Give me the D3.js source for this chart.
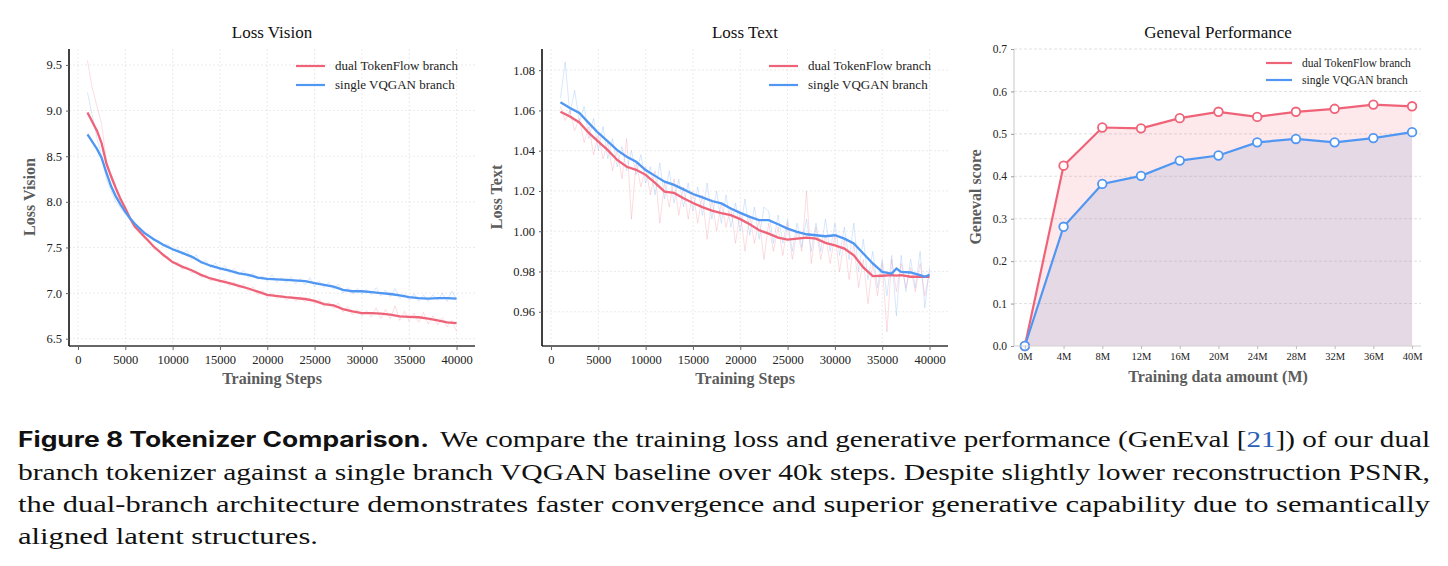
<!DOCTYPE html>
<html>
<head>
<meta charset="utf-8">
<title>Tokenizer Comparison</title>
<script src="https://d3js.org/d3.v7.min.js"></script>
<style>
  body { margin: 0; background: #fff; }
</style>
</head>
<body>
<svg id="fig" width="1448" height="566" font-family="'Liberation Serif', 'Times New Roman', serif"></svg>
<script>
// ---- data ----
const steps = [1000,2000,2500,3000,3500,4000,4500,5000,5500,6000,7000,8000,9000,10000,11000,12000,13000,14000,15000,16000,17000,18000,19000,20000,22000,24000,25000,26000,27000,28000,29000,30000,31000,32000,33000,34000,35000,36000,37000,38000,39000,40000];
const visionDual   = [8.98,8.78,8.64,8.42,8.28,8.15,8.03,7.93,7.82,7.73,7.62,7.51,7.42,7.34,7.29,7.25,7.20,7.16,7.135,7.11,7.08,7.05,7.015,6.98,6.955,6.935,6.915,6.88,6.865,6.825,6.80,6.78,6.78,6.775,6.765,6.745,6.74,6.735,6.72,6.70,6.68,6.67];
const visionSingle = [8.74,8.58,8.48,8.32,8.17,8.06,7.97,7.89,7.82,7.76,7.66,7.59,7.53,7.48,7.44,7.40,7.34,7.30,7.27,7.245,7.215,7.20,7.17,7.155,7.145,7.13,7.11,7.09,7.07,7.035,7.02,7.02,7.01,7.0,6.99,6.975,6.955,6.945,6.94,6.945,6.945,6.94];

const textSteps = [1000,2000,3000,4000,5000,6000,7000,8000,9000,10000,11000,12000,13000,14000,15000,16000,17000,18000,19000,20000,21000,22000,23000,24000,25000,26000,27000,28000,29000,30000,31000,32000,33000,34000,35000,36000,36500,37000,38000,39000,39500,40000];
const textDual   = [1.0593,1.057,1.054,1.0488,1.0445,1.0403,1.0354,1.032,1.0305,1.028,1.024,1.0197,1.019,1.0164,1.014,1.012,1.0102,1.009,1.008,1.006,1.0035,1.0005,0.9988,0.9968,0.9958,0.9963,0.9968,0.9963,0.9942,0.993,0.9914,0.988,0.982,0.9777,0.9779,0.9782,0.9780,0.9782,0.9774,0.9774,0.9774,0.9774];
const textSingle = [1.064,1.0612,1.0587,1.0537,1.0488,1.0446,1.0403,1.037,1.0345,1.0304,1.0275,1.0246,1.023,1.0208,1.0185,1.0168,1.015,1.0138,1.0113,1.0091,1.0071,1.0055,1.0055,1.0035,1.0013,0.9997,0.9985,0.998,0.9975,0.998,0.9963,0.9939,0.9889,0.984,0.9798,0.979,0.9815,0.9798,0.9795,0.9782,0.9774,0.9784];

// raw (unsmoothed) logs, one value every 500 steps from 1000 to 40000
const rawSteps = d3.range(1000, 40001, 500);
const visionDualRaw = [9.55,9.25,9.05,8.85,8.45,8.25,8.12,8.00,7.90,7.80,7.72,7.66,7.60,7.58,7.48,7.47,7.40,7.40,7.32,7.34,7.26,7.29,7.22,7.24,7.17,7.20,7.13,7.16,7.12,7.15,7.08,7.12,7.05,7.10,7.02,7.07,6.98,7.03,6.95,7.00,6.94,6.98,6.92,6.97,6.91,6.96,6.90,6.95,6.88,6.93,6.85,6.90,6.83,6.89,6.79,6.85,6.76,6.82,6.75,6.81,6.74,6.84,6.72,6.82,6.72,6.86,6.70,6.80,6.69,6.78,6.68,6.79,6.66,6.75,6.65,6.73,6.63,6.70,6.58];
const visionSingleRaw = [9.20,8.95,8.70,8.50,8.25,8.12,8.00,7.93,7.86,7.80,7.76,7.72,7.67,7.64,7.57,7.58,7.51,7.54,7.46,7.50,7.42,7.47,7.37,7.42,7.32,7.36,7.28,7.33,7.25,7.30,7.22,7.27,7.20,7.25,7.17,7.22,7.15,7.19,7.13,7.20,7.12,7.17,7.11,7.18,7.10,7.16,7.09,7.17,7.07,7.13,7.06,7.12,7.04,7.10,7.00,7.06,6.99,7.05,6.99,7.04,6.98,7.06,6.97,7.03,6.96,7.05,6.94,6.99,6.92,6.99,6.91,6.98,6.91,6.98,6.92,7.00,6.91,7.02,6.93];
const textDualRaw = [1.062,1.055,1.060,1.050,1.056,1.044,1.052,1.038,1.048,1.036,1.044,1.030,1.040,1.026,1.046,1.006,1.034,1.022,1.032,1.018,1.030,1.004,1.024,1.012,1.026,1.008,1.022,1.006,1.020,1.004,1.018,0.996,1.016,1.000,1.014,1.002,1.012,0.994,1.010,0.990,1.008,0.994,1.006,0.986,1.004,0.990,1.002,0.988,1.004,0.986,1.000,0.990,1.020,0.984,1.002,0.986,0.998,0.984,0.998,0.980,0.996,0.976,0.994,0.972,0.986,0.964,0.984,0.968,0.984,0.950,0.986,0.970,0.984,0.972,0.982,0.970,0.984,0.968,0.980];
const textSingleRaw = [1.066,1.084,1.058,1.070,1.054,1.062,1.046,1.056,1.040,1.052,1.036,1.046,1.032,1.042,1.030,1.040,1.028,1.038,1.024,1.032,1.018,1.034,1.016,1.030,1.014,1.026,1.012,1.024,1.010,1.022,1.008,1.024,1.006,1.020,1.004,1.018,1.002,1.014,1.000,1.016,0.998,1.012,0.996,1.012,1.010,0.994,1.008,0.994,1.006,0.990,1.004,0.992,1.006,0.990,1.004,0.990,1.006,0.990,1.004,0.988,1.002,0.986,1.004,0.980,0.996,0.976,0.990,0.972,0.986,0.968,0.988,0.958,0.988,0.970,0.986,0.972,0.990,0.962,0.982];

const dataAmount = ["0M","4M","8M","12M","16M","20M","24M","28M","32M","36M","40M"];
const genevalDual   = [0.0,0.425,0.515,0.513,0.537,0.552,0.540,0.552,0.559,0.569,0.565];
const genevalSingle = [0.0,0.281,0.382,0.401,0.437,0.449,0.480,0.488,0.480,0.490,0.504];

const stepTicks = [0,5000,10000,15000,20000,25000,30000,35000,40000];
const visionTicks = [6.5,7.0,7.5,8.0,8.5,9.0,9.5];
const textTicks = [0.96,0.98,1.00,1.02,1.04,1.06,1.08];
const scoreTicks = [0,0.1,0.2,0.3,0.4,0.5,0.6,0.7];
const seriesNames = ["dual TokenFlow branch", "single VQGAN branch"];

// ---- style ----
const RED = "#ef6379";
const BLUE = "#4f97f2";
const TOP = 49, BOTTOM = 346;
const SERIF = "'Liberation Serif', 'Times New Roman', serif";

const svg = d3.select("#fig");
svg.append("rect").attr("width", 1448).attr("height", 566).attr("fill", "#fff");

function legend(g, x, y, gap, fs, len) {
  [RED, BLUE].forEach((c, i) => {
    g.append("line").attr("x1", x).attr("x2", x + len)
      .attr("y1", y + i * gap).attr("y2", y + i * gap)
      .attr("stroke", c).attr("stroke-width", 2.2);
    g.append("text").attr("x", x + len + 10).attr("y", y + i * gap + fs * 0.33)
      .attr("font-size", fs).attr("fill", "#222").text(seriesNames[i]);
  });
}

function lossPanel(cfg) {
  const g = svg.append("g");
  const x = d3.scaleLinear().domain([-950, 41950]).range([cfg.left, cfg.right]);
  const y = d3.scaleLinear().domain(cfg.ydom).range([BOTTOM, TOP]);

  // grid
  g.selectAll(".gx").data(stepTicks).join("line")
    .attr("x1", d => x(d)).attr("x2", d => x(d)).attr("y1", TOP).attr("y2", BOTTOM)
    .attr("stroke", "#e6e6e6").attr("stroke-width", 0.8).attr("stroke-dasharray", "2,2");
  g.selectAll(".gy").data(cfg.ticks).join("line")
    .attr("x1", cfg.left).attr("x2", cfg.right).attr("y1", d => y(d)).attr("y2", d => y(d))
    .attr("stroke", "#e6e6e6").attr("stroke-width", 0.8).attr("stroke-dasharray", "2,2");

  // raw curves
  const raw = d3.line().x((d, i) => x(rawSteps[i])).y(d => y(d));
  g.append("path").attr("d", raw(cfg.rawDual)).attr("fill", "none")
    .attr("stroke", RED).attr("stroke-opacity", 0.22).attr("stroke-width", 1);
  g.append("path").attr("d", raw(cfg.rawSingle)).attr("fill", "none")
    .attr("stroke", BLUE).attr("stroke-opacity", 0.22).attr("stroke-width", 1);

  // smoothed
  const sm = d3.line().x((d, i) => x(cfg.steps[i])).y(d => y(d));
  g.append("path").attr("d", sm(cfg.dual)).attr("fill", "none")
    .attr("stroke", RED).attr("stroke-width", 2.3);
  g.append("path").attr("d", sm(cfg.single)).attr("fill", "none")
    .attr("stroke", BLUE).attr("stroke-width", 2.3);

  // axes
  const ax = g.append("g").attr("transform", `translate(0,${BOTTOM})`)
    .call(d3.axisBottom(x).tickValues(stepTicks).tickSize(4).tickPadding(5).tickFormat(d3.format("d")));
  ax.select(".domain").attr("stroke", "#666").attr("stroke-width", 2).attr("d", `M${cfg.left},0H${cfg.right}`);
  ax.selectAll(".tick line").attr("stroke", "#666");
  ax.selectAll("text").attr("font-size", 12.5).attr("fill", "#222").attr("font-family", SERIF);

  const ay = g.append("g").attr("transform", `translate(${cfg.left},0)`)
    .call(d3.axisLeft(y).tickValues(cfg.ticks).tickSize(3).tickPadding(4).tickFormat(d3.format(cfg.fmt)));
  ay.select(".domain").attr("stroke", "#111").attr("stroke-width", 1.6).attr("d", `M0,${TOP}V${BOTTOM}`);
  ay.selectAll(".tick line").attr("stroke", "#666");
  ay.selectAll("text").attr("font-size", 12.5).attr("fill", "#222").attr("font-family", SERIF);

  // labels
  g.append("text").attr("x", (cfg.left + cfg.right) / 2).attr("y", 38).attr("text-anchor", "middle")
    .attr("font-size", 17).attr("fill", "#111").text(cfg.title);
  g.append("text").attr("x", (cfg.left + cfg.right) / 2).attr("y", 384).attr("text-anchor", "middle")
    .attr("font-size", 16).attr("font-weight", "bold").attr("fill", "#5c5c5c").text("Training Steps");
  g.append("text").attr("transform", `translate(${cfg.ylabX},197) rotate(-90)`).attr("text-anchor", "middle")
    .attr("font-size", 16).attr("font-weight", "bold").attr("fill", "#5c5c5c").text(cfg.title);

  legend(g, cfg.legX, 66, 19, 13, 29);
}

lossPanel({ left: 69, right: 475, ydom: [6.42, 9.675], ticks: visionTicks, fmt: ".1f",
  steps: steps, dual: visionDual, single: visionSingle,
  rawDual: visionDualRaw, rawSingle: visionSingleRaw,
  title: "Loss Vision", ylabX: 35, legX: 296 });

lossPanel({ left: 542, right: 948, ydom: [0.943, 1.0905], ticks: textTicks, fmt: ".2f",
  steps: textSteps, dual: textDual, single: textSingle,
  rawDual: textDualRaw, rawSingle: textSingleRaw,
  title: "Loss Text", ylabX: 502, legX: 769 });

// ---- Geneval panel ----
(function () {
  const g = svg.append("g");
  const L = 1014, R = 1421;
  const x = d3.scaleLinear().domain([-0.28, 10.23]).range([L, R]);
  const y = d3.scaleLinear().domain([0, 0.7]).range([BOTTOM, TOP]);

  g.selectAll(".gy").data(scoreTicks.slice(1)).join("line")
    .attr("x1", L).attr("x2", R).attr("y1", d => y(d)).attr("y2", d => y(d))
    .attr("stroke", "#d8d8d8").attr("stroke-width", 0.8).attr("stroke-dasharray", "3,2");

  const area = d3.area().x((d, i) => x(i)).y0(y(0)).y1(d => y(d));
  g.append("path").attr("d", area(genevalDual)).attr("fill", RED).attr("fill-opacity", 0.15);
  g.append("path").attr("d", area(genevalSingle)).attr("fill", "#6f8fd0").attr("fill-opacity", 0.16);

  const line = d3.line().x((d, i) => x(i)).y(d => y(d));
  [[genevalDual, RED], [genevalSingle, BLUE]].forEach(([vals, c]) => {
    g.append("path").attr("d", line(vals)).attr("fill", "none").attr("stroke", c).attr("stroke-width", 2.2);
    g.selectAll(null).data(vals).join("circle")
      .attr("cx", (d, i) => x(i)).attr("cy", d => y(d)).attr("r", 4.3)
      .attr("fill", "#fff").attr("stroke", c).attr("stroke-width", 1.8);
  });

  const ax = g.append("g").attr("transform", `translate(0,${BOTTOM})`)
    .call(d3.axisBottom(x).tickValues(d3.range(dataAmount.length)).tickSize(3).tickPadding(4).tickFormat(i => dataAmount[i]));
  ax.select(".domain").attr("stroke", "#d0d0d0").attr("stroke-width", 1.2).attr("d", `M${L},0H${R}`);
  ax.selectAll(".tick line").attr("stroke", "#bbb");
  ax.selectAll("text").attr("font-size", 10.5).attr("fill", "#222").attr("font-family", SERIF);

  const ay = g.append("g").attr("transform", `translate(${L},0)`)
    .call(d3.axisLeft(y).tickValues(scoreTicks).tickSize(3).tickPadding(4).tickFormat(d3.format(".1f")));
  ay.select(".domain").attr("stroke", "#d0d0d0").attr("stroke-width", 1.2).attr("d", `M0,${TOP}V${BOTTOM}`);
  ay.selectAll(".tick line").attr("stroke", "#999");
  ay.selectAll("text").attr("font-size", 11.5).attr("fill", "#222").attr("font-family", SERIF);

  g.append("text").attr("x", 1218).attr("y", 38).attr("text-anchor", "middle")
    .attr("font-size", 17).attr("fill", "#111").text("Geneval Performance");
  g.append("text").attr("x", 1218).attr("y", 382).attr("text-anchor", "middle")
    .attr("font-size", 16).attr("font-weight", "bold").attr("fill", "#5c5c5c").text("Training data amount (M)");
  g.append("text").attr("transform", "translate(981,197) rotate(-90)").attr("text-anchor", "middle")
    .attr("font-size", 16).attr("font-weight", "bold").attr("fill", "#5c5c5c").text("Geneval score");

  legend(g, 1266, 63, 17, 11.5, 26);
})();

// ---- caption ----
const cap = svg.append("g").attr("fill", "#111");
cap.append("text").attr("x", 18).attr("y", 447).attr("font-family", "Inter, 'Noto Sans', sans-serif")
  .attr("font-weight", "bold").attr("font-size", 21).attr("textLength", 411).attr("lengthAdjust", "spacingAndGlyphs")
  .text("Figure 8  Tokenizer Comparison.");
const l1 = cap.append("text").attr("x", 440).attr("y", 447).attr("font-size", 24)
  .attr("textLength", 990).attr("lengthAdjust", "spacingAndGlyphs");
l1.append("tspan").text("We compare the training loss and generative performance (GenEval [");
l1.append("tspan").attr("fill", "#2b5fb4").text("21");
l1.append("tspan").text("]) of our dual");
cap.append("text").attr("x", 18).attr("y", 480).attr("font-size", 24)
  .attr("textLength", 1412).attr("lengthAdjust", "spacingAndGlyphs")
  .text("branch tokenizer against a single branch VQGAN baseline over 40k steps. Despite slightly lower reconstruction PSNR,");
cap.append("text").attr("x", 18).attr("y", 512).attr("font-size", 24)
  .attr("textLength", 1412).attr("lengthAdjust", "spacingAndGlyphs")
  .text("the dual-branch architecture demonstrates faster convergence and superior generative capability due to semantically");
cap.append("text").attr("x", 18).attr("y", 544).attr("font-size", 24)
  .attr("textLength", 300).attr("lengthAdjust", "spacingAndGlyphs")
  .text("aligned latent structures.");
</script>
</body>
</html>
